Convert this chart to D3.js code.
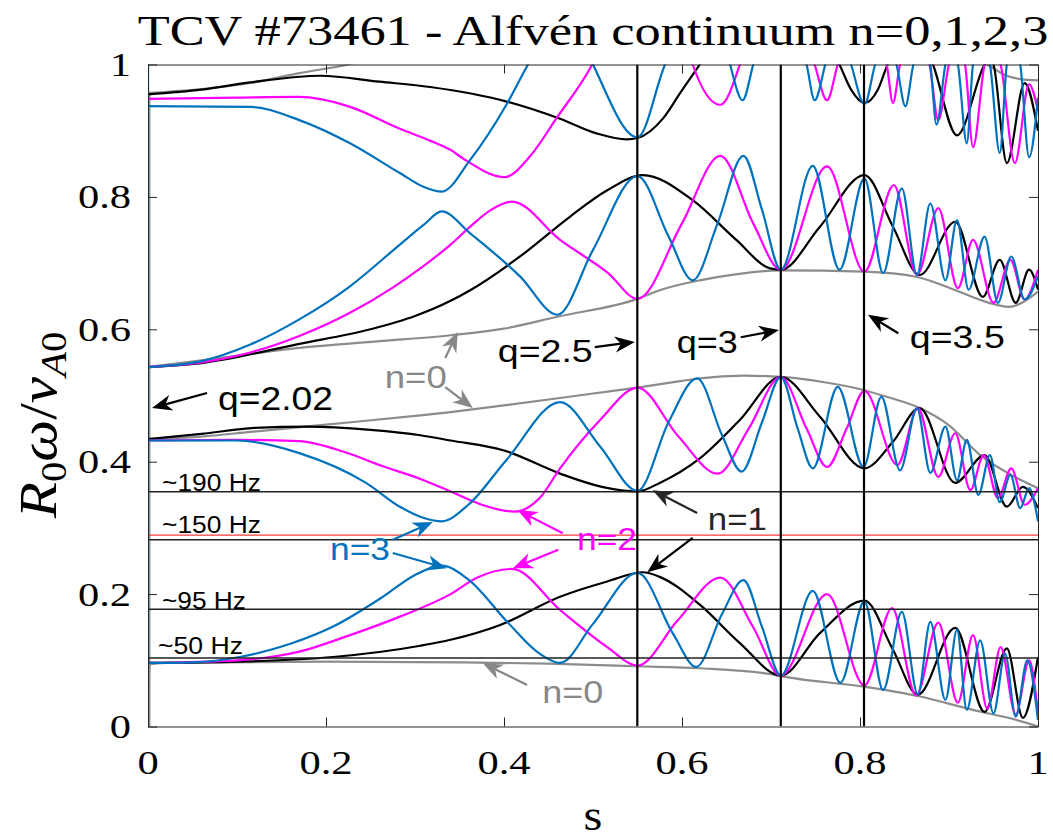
<!DOCTYPE html>
<html><head><meta charset="utf-8">
<script src="https://cdn.jsdelivr.net/npm/d3@7"></script>
<style>body{margin:0;background:#fff}</style>
</head><body><svg id="c" width="1053" height="840"></svg>
<script>
// ---------- data: [s, R0*omega/vA0] ----------
const xTicks = [0, 0.2, 0.4, 0.6, 0.8, 1];
const xTickLabels = ["0", "0.2", "0.4", "0.6", "0.8", "1"];
const yTicks = [0, 0.2, 0.4, 0.6, 0.8, 1];
const yTickLabels = ["0", "0.2", "0.4", "0.6", "0.8", "1"];

// n = 0 (gray)
const n0Axis = [[0.0015, 0], [0.0015, 0.955]];
const n0Low = [[0,0],[0.002,0.094],[0.02,0.096],[0.2,0.098],[0.35,0.097],[0.45,0.095],[0.55,0.091],[0.62,0.088],[0.7,0.079],[0.711,0.076],[0.805,0.06],[0.865,0.046],[0.93,0.024],[0.97,0.012],[1.0,0.0]];
const n0Mid = [[0,0.434],[0.06,0.438],[0.115,0.445],[0.2,0.456],[0.306,0.47],[0.34,0.475],[0.4,0.485],[0.5,0.503],[0.55,0.512],[0.6,0.522],[0.62,0.526],[0.67,0.53],[0.711,0.528],[0.76,0.52],[0.805,0.508],[0.83,0.498],[0.867,0.481],[0.9,0.455],[0.935,0.41],[0.97,0.38],[1.0,0.36]];
const n0Up = [[0,0.543],[0.06,0.553],[0.17,0.572],[0.26,0.582],[0.34,0.591],[0.4,0.601],[0.46,0.619],[0.55,0.646],[0.575,0.659],[0.62,0.674],[0.66,0.683],[0.711,0.689],[0.805,0.687],[0.864,0.679],[0.898,0.664],[0.945,0.64],[0.967,0.634],[1.0,0.657]];
const n0Top = [[0,0.957],[0.06,0.963],[0.115,0.972],[0.17,0.987],[0.225,1.0],[0.26,1.012]];
const n0TopRight = [[0.925,1.015],[0.943,1.0],[0.965,0.983],[0.98,0.978],[1.0,0.976]];

// n = 1 (black)
const n1A = [[0,0.096],[0.1,0.098],[0.208,0.105],[0.306,0.122],[0.34,0.131],[0.395,0.153],[0.463,0.196],[0.516,0.219],[0.556,0.233],[0.575,0.226],[0.62,0.184],[0.665,0.126],[0.711,0.077],[0.755,0.141],[0.805,0.19],[0.837,0.116],[0.865,0.048],[0.907,0.149],[0.94,0.022],[0.965,0.118],[0.983,0.013],[1.0,0.105]];
const n1B = [[0,0.434],[0.06,0.442],[0.12,0.451],[0.18,0.453],[0.25,0.448],[0.306,0.44],[0.34,0.432],[0.4,0.417],[0.463,0.382],[0.51,0.362],[0.55,0.355],[0.575,0.368],[0.62,0.405],[0.665,0.463],[0.711,0.528],[0.755,0.468],[0.805,0.39],[0.837,0.43],[0.867,0.481],[0.907,0.368],[0.94,0.41],[0.965,0.332],[0.983,0.362],[1.0,0.33]];
const n1C = [[0,0.543],[0.06,0.549],[0.17,0.578],[0.25,0.6],[0.3,0.62],[0.34,0.643],[0.362,0.659],[0.418,0.71],[0.474,0.77],[0.516,0.81],[0.556,0.833],[0.612,0.795],[0.661,0.735],[0.699,0.692],[0.711,0.69],[0.755,0.755],[0.805,0.833],[0.837,0.755],[0.867,0.682],[0.907,0.7625],[0.938,0.649],[0.957,0.705],[0.975,0.64],[0.99,0.69],[1.0,0.66]];
const n1D = [[0,0.955],[0.06,0.962],[0.115,0.973],[0.194,0.983],[0.26,0.974],[0.317,0.966],[0.403,0.944],[0.463,0.918],[0.504,0.896],[0.538,0.887],[0.55,0.889],[0.579,0.919],[0.598,0.957],[0.62,1.0],[0.635,1.03]];
const n1E = [[0.77,1.02],[0.777,1.0],[0.79,0.962],[0.805,0.942],[0.82,0.962],[0.831,1.0],[0.838,1.02]];
const n1F = [[0.876,1.02],[0.882,1.0],[0.909,0.893],[0.94,1.0],[0.945,1.01],[0.95,1.0],[0.965,0.851],[0.985,0.972],[1.0,0.9]];

// n = 2 (magenta)
const n2A = [[0,0.096],[0.1,0.1],[0.17,0.113],[0.227,0.138],[0.283,0.166],[0.34,0.2],[0.37,0.225],[0.409,0.238],[0.463,0.176],[0.516,0.12],[0.55,0.092],[0.595,0.16],[0.643,0.225],[0.68,0.15],[0.711,0.077],[0.763,0.2],[0.805,0.062],[0.836,0.179],[0.863,0.047],[0.888,0.157],[0.91,0.036],[0.927,0.138],[0.943,0.027],[0.958,0.12],[0.975,0.018],[0.99,0.1],[1.0,0.02]];
const n2B = [[0,0.432],[0.1,0.433],[0.17,0.431],[0.22,0.415],[0.264,0.393],[0.306,0.374],[0.34,0.355],[0.375,0.335],[0.412,0.3245],[0.44,0.345],[0.463,0.39],[0.508,0.463],[0.55,0.512],[0.596,0.438],[0.64,0.382],[0.675,0.45],[0.711,0.528],[0.74,0.45],[0.763,0.392],[0.785,0.45],[0.805,0.507],[0.842,0.395],[0.865,0.481],[0.888,0.377],[0.907,0.443],[0.924,0.357],[0.939,0.41],[0.955,0.345],[0.97,0.39],[0.985,0.335],[1.0,0.36]];
const n2C = [[0,0.543],[0.06,0.55],[0.115,0.565],[0.17,0.59],[0.227,0.625],[0.275,0.663],[0.306,0.692],[0.34,0.728],[0.362,0.755],[0.385,0.78],[0.409,0.793],[0.463,0.735],[0.517,0.685],[0.55,0.646],[0.6,0.76],[0.643,0.862],[0.68,0.76],[0.711,0.69],[0.763,0.846],[0.805,0.687],[0.838,0.818],[0.864,0.682],[0.888,0.783],[0.91,0.662],[0.927,0.735],[0.95,0.64],[0.969,0.705],[0.985,0.645],[1.0,0.69]];
const n2D = [[0,0.948],[0.1,0.95],[0.17,0.951],[0.227,0.936],[0.283,0.903],[0.317,0.885],[0.34,0.871],[0.354,0.858],[0.401,0.83],[0.429,0.861],[0.459,0.919],[0.499,1.0],[0.51,1.03]];
const n2E = [[0.605,1.03],[0.612,1.0],[0.643,0.939],[0.665,1.0],[0.672,1.03]];
const n2F = [[0.744,1.02],[0.749,1.0],[0.763,0.946],[0.775,1.0],[0.78,1.02]];
const n2G = [[0.826,1.02],[0.83,1.0],[0.837,0.942],[0.845,1.0],[0.85,1.02]];
const n2H = [[0.872,1.02],[0.878,1.0],[0.888,0.916],[0.9,1.0],[0.905,1.02]];
const n2I = [[0.912,1.02],[0.918,1.0],[0.927,0.875],[0.94,1.0],[0.945,1.02]];
const n2J = [[0.952,1.02],[0.958,1.0],[0.974,0.851],[0.99,0.97],[1.0,0.93]];

// n = 3 (blue)
const n3A = [[0,0.096],[0.05,0.097],[0.103,0.105],[0.16,0.125],[0.208,0.151],[0.264,0.196],[0.3,0.229],[0.33,0.243],[0.36,0.222],[0.405,0.156],[0.44,0.11],[0.463,0.096],[0.5,0.155],[0.55,0.232],[0.59,0.14],[0.616,0.09],[0.645,0.17],[0.669,0.221],[0.69,0.15],[0.711,0.077],[0.747,0.205],[0.778,0.066],[0.805,0.189],[0.826,0.055],[0.847,0.173],[0.865,0.048],[0.879,0.158],[0.896,0.04],[0.909,0.146],[0.92,0.025],[0.935,0.13],[0.95,0.02],[0.963,0.11],[0.975,0.015],[0.988,0.1],[1.0,0.01]];
const n3B = [[0,0.432],[0.1,0.432],[0.17,0.413],[0.245,0.368],[0.283,0.332],[0.31,0.315],[0.33,0.31],[0.36,0.335],[0.403,0.403],[0.463,0.49],[0.508,0.423],[0.55,0.356],[0.585,0.46],[0.617,0.526],[0.645,0.44],[0.667,0.385],[0.69,0.46],[0.711,0.528],[0.73,0.45],[0.747,0.39],[0.775,0.513],[0.804,0.392],[0.824,0.498],[0.845,0.387],[0.864,0.481],[0.879,0.383],[0.896,0.453],[0.909,0.372],[0.92,0.433],[0.933,0.35],[0.946,0.41],[0.957,0.339],[0.969,0.38],[0.98,0.33],[0.99,0.36],[1.0,0.31]];
const n3C = [[0,0.543],[0.06,0.552],[0.115,0.577],[0.17,0.615],[0.227,0.665],[0.283,0.728],[0.31,0.758],[0.33,0.778],[0.362,0.745],[0.418,0.68],[0.46,0.622],[0.5,0.72],[0.55,0.8315],[0.585,0.74],[0.612,0.674],[0.64,0.76],[0.669,0.862],[0.69,0.78],[0.711,0.69],[0.747,0.847],[0.777,0.69],[0.805,0.828],[0.826,0.685],[0.847,0.813],[0.864,0.682],[0.879,0.79],[0.896,0.674],[0.909,0.765],[0.922,0.66],[0.94,0.74],[0.955,0.64],[0.97,0.71],[0.985,0.645],[1.0,0.68]];
const n3D = [[0,0.937],[0.115,0.936],[0.17,0.916],[0.227,0.881],[0.283,0.836],[0.31,0.815],[0.33,0.808],[0.362,0.856],[0.403,0.94],[0.427,1.0],[0.44,1.03]];
const n3E = [[0.493,1.02],[0.5,1.0],[0.55,0.89],[0.581,1.0],[0.588,1.02]];
const n3F = [[0.65,1.02],[0.654,1.0],[0.668,0.946],[0.68,1.0],[0.684,1.02]];
const n3G = [[0.736,1.02],[0.74,1.0],[0.749,0.946],[0.761,1.0],[0.765,1.02]];
const n3H = [[0.785,1.02],[0.79,1.0],[0.805,0.94],[0.817,1.0],[0.822,1.02]];
const n3I = [[0.836,1.02],[0.841,1.0],[0.851,0.937],[0.86,1.0],[0.865,1.02]];
const n3J = [[0.874,1.02],[0.879,1.0],[0.886,0.909],[0.896,1.0],[0.9,1.02]];
const n3K = [[0.905,1.02],[0.91,1.0],[0.92,0.881],[0.927,1.0],[0.932,1.02]];
const n3L = [[0.94,1.02],[0.946,1.0],[0.957,0.866],[0.965,1.0],[0.97,1.02]];
const n3M = [[0.975,1.02],[0.98,1.0],[0.99,0.86],[1.0,0.95]];
const nearAxisBlue = [[0.0003,0.096],[0.0003,1.0]];

// reference lines
const qSurfaces = [0.5498, 0.711, 0.8045];
const freqLines = [0.3547, 0.282, 0.177, 0.1035];
const freqRed = [0.289];
const freqLabels = ["~190 Hz", "~150 Hz", "~95 Hz", "~50 Hz"];
const freqLabelY = [0.356, 0.292, 0.178, 0.109];

// ---------- drawing ----------
const M = {l:148, r:1038, t:64.5, b:726.5};
const x = d3.scaleLinear().domain([0,1]).range([M.l, M.r]);
const y = d3.scaleLinear().domain([0,1]).range([M.b, M.t]);
const svg = d3.select("#c");
const SERIF = "'Liberation Serif','DejaVu Serif',serif";
const SANS = "'Liberation Sans',Arial,sans-serif";
const SX = 1.25;

svg.append("defs").append("clipPath").attr("id","clip")
  .append("rect").attr("x",M.l).attr("y",M.t).attr("width",M.r-M.l).attr("height",M.b-M.t);
const plot = svg.append("g").attr("clip-path","url(#clip)");
const line = d3.line().x(d=>x(d[0])).y(d=>y(d[1])).curve(d3.curveMonotoneX);
const lineLin = d3.line().x(d=>x(d[0])).y(d=>y(d[1]));

const GRAY="#8c8c8c", BLUE="#0072BD", MAG="#FF00FF", BLK="#000";
const groups = [
  {c:GRAY, segs:[n0Low,n0Mid,n0Up,n0Top,n0TopRight]},
  {c:BLK, segs:[n1A,n1B,n1C,n1D,n1E,n1F]},
  {c:MAG, segs:[n2A,n2B,n2C,n2D,n2E,n2F,n2G,n2H,n2I,n2J]},
  {c:BLUE, segs:[n3A,n3B,n3C,n3D,n3E,n3F,n3G,n3H,n3I,n3J,n3K,n3L,n3M]}
];
plot.append("path").attr("d",lineLin(n0Axis)).attr("stroke",GRAY).attr("stroke-width",2.2).attr("fill","none");
plot.append("path").attr("d",lineLin(nearAxisBlue)).attr("stroke","#4DBEEE").attr("stroke-width",2).attr("fill","none");
groups.forEach(g=>{
  plot.selectAll(null).data(g.segs).enter().append("path")
    .attr("d",d=>line(d)).attr("fill","none").attr("stroke",g.c)
    .attr("stroke-width",2.2).attr("stroke-linejoin","round");
});

// frequency lines
plot.selectAll(null).data(freqLines).enter().append("line")
  .attr("x1",M.l).attr("x2",M.r).attr("y1",d=>y(d)).attr("y2",d=>y(d))
  .attr("stroke","#222").attr("stroke-width",1.5);
plot.selectAll(null).data(freqRed).enter().append("line")
  .attr("x1",M.l).attr("x2",M.r).attr("y1",d=>y(d)).attr("y2",d=>y(d))
  .attr("stroke","#ff3b3b").attr("stroke-width",1.2);
// q surfaces
plot.selectAll(null).data(qSurfaces).enter().append("line")
  .attr("x1",d=>x(d)).attr("x2",d=>x(d)).attr("y1",M.t).attr("y2",M.b)
  .attr("stroke","#000").attr("stroke-width",2.2);

// axes (box with inward ticks)
const axStyle = g => { g.selectAll("path").attr("stroke","#262626").attr("stroke-width",1);
  g.selectAll("line").attr("stroke","#262626").attr("stroke-width",1); g.selectAll("text").remove(); };
svg.append("g").attr("transform",`translate(0,${M.b})`).call(d3.axisBottom(x).tickValues(xTicks).tickSizeInner(-9).tickSizeOuter(0)).call(axStyle);
svg.append("g").attr("transform",`translate(0,${M.t})`).call(d3.axisTop(x).tickValues(xTicks).tickSizeInner(-9).tickSizeOuter(0)).call(axStyle);
svg.append("g").attr("transform",`translate(${M.l},0)`).call(d3.axisLeft(y).tickValues(yTicks).tickSizeInner(-9).tickSizeOuter(0)).call(axStyle);
svg.append("g").attr("transform",`translate(${M.r},0)`).call(d3.axisRight(y).tickValues(yTicks).tickSizeInner(-9).tickSizeOuter(0)).call(axStyle);

// text helper: horizontally stretched text
function stext(parent, str, px, py, o){
  const t = parent.append("text").text(str)
    .attr("font-family",o.font||SANS).attr("font-size",o.size||20)
    .attr("fill",o.color||"#000").attr("text-anchor",o.anchor||"start");
  let sx = o.sx || SX;
  if (o.width){ const n = t.node().getComputedTextLength(); if(n>0) sx = o.width/n; }
  t.attr("transform",`translate(${px},${py}) scale(${sx},1)`);
  return t;
}

// tick labels
xTicks.forEach((v,i)=>stext(svg, xTickLabels[i], x(v), 774, {font:SERIF,size:34,anchor:"middle"}));
yTicks.forEach((v,i)=>stext(svg, yTickLabels[i], 131, y(v)+11.5, {font:SERIF,size:34,anchor:"end"}));

// title and axis labels
stext(svg, "TCV #73461 - Alfvén continuum n=0,1,2,3", 593, 45, {font:SERIF,size:42,anchor:"middle",width:911});
stext(svg, "s", x(0.5), 830, {font:SERIF,size:44,anchor:"middle",sx:1.1});
const yl = svg.append("text").attr("font-family",SERIF).attr("font-size",44).attr("text-anchor","middle")
  .attr("transform","translate(56,425) rotate(-90) scale(1.35,1.2)");
yl.append("tspan").attr("font-style","italic").text("R");
yl.append("tspan").attr("font-size",30).attr("dy",8).text("0");
yl.append("tspan").attr("font-style","italic").attr("dy",-8).text("ω");
yl.append("tspan").text("/");
yl.append("tspan").attr("font-style","italic").text("v");
yl.append("tspan").attr("font-style","italic").attr("font-size",30).attr("dy",8).text("A");
yl.append("tspan").attr("font-size",30).text("0");

// frequency labels
freqLabels.forEach((s,i)=>stext(svg, s, i===3?158:162, y(freqLabelY[i]), {size:23, width:[99,99,84,85][i]}));

// annotations
const notes = [
  {t:"q=2.02", s:0.0787, w:0.478, px:115, size:33, c:"#000"},
  {t:"n=0", s:0.266, w:0.511, px:62, size:31, c:"#888"},
  {t:"q=2.5", s:0.393, w:0.551, px:95, size:31, c:"#000"},
  {t:"q=3", s:0.594, w:0.564, px:61, size:31, c:"#000"},
  {t:"q=3.5", s:0.856, w:0.572, px:95, size:31, c:"#000"},
  {t:"n=1", s:0.629, w:0.297, px:59, size:31, c:"#262626"},
  {t:"n=2", s:0.482, w:0.267, px:60, size:31, c:MAG},
  {t:"n=3", s:0.2045, w:0.2515, px:60, size:31, c:BLUE},
  {t:"n=0", s:0.443, w:0.0355, px:61, size:31, c:"#888"}
];
notes.forEach(n=>stext(svg, n.t, x(n.s), y(n.w), {size:n.size, color:n.c, width:n.px}));

const arrows = [
  {a:[0.0663,0.5038], b:[0.0045,0.481], c:"#000"},
  {a:[0.334,0.5566], b:[0.348,0.596], c:"#888"},
  {a:[0.334,0.5128], b:[0.365,0.481], c:"#888"},
  {a:[0.502,0.573], b:[0.547,0.581], c:"#000"},
  {a:[0.666,0.588], b:[0.709,0.599], c:"#000"},
  {a:[0.843,0.594], b:[0.809,0.622], c:"#000"},
  {a:[0.617,0.3225], b:[0.567,0.357], c:"#262626"},
  {a:[0.612,0.285], b:[0.561,0.233], c:"#000"},
  {a:[0.466,0.292], b:[0.415,0.327], c:MAG},
  {a:[0.461,0.267], b:[0.41,0.239], c:MAG},
  {a:[0.275,0.282], b:[0.32,0.309], c:BLUE},
  {a:[0.275,0.262], b:[0.3356,0.239], c:BLUE},
  {a:[0.426,0.0627], b:[0.376,0.096], c:"#888"}
];
arrows.forEach(ar=>{
  const x1=x(ar.a[0]), y1=y(ar.a[1]), x2=x(ar.b[0]), y2=y(ar.b[1]);
  const dx=x2-x1, dy=y2-y1, len=Math.hypot(dx,dy), ux=dx/len, uy=dy/len, nx=-uy, ny=ux;
  const L=20, hw=8, notch=6;
  const bx=x2-ux*L, by=y2-uy*L, mx=x2-ux*(L-notch), my=y2-uy*(L-notch);
  svg.append("line").attr("x1",x1).attr("y1",y1).attr("x2",mx).attr("y2",my)
    .attr("stroke",ar.c).attr("stroke-width",2.2);
  svg.append("polygon").attr("points",`${x2},${y2} ${bx+nx*hw},${by+ny*hw} ${mx},${my} ${bx-nx*hw},${by-ny*hw}`)
    .attr("fill",ar.c);
});
</script>
</body></html>
